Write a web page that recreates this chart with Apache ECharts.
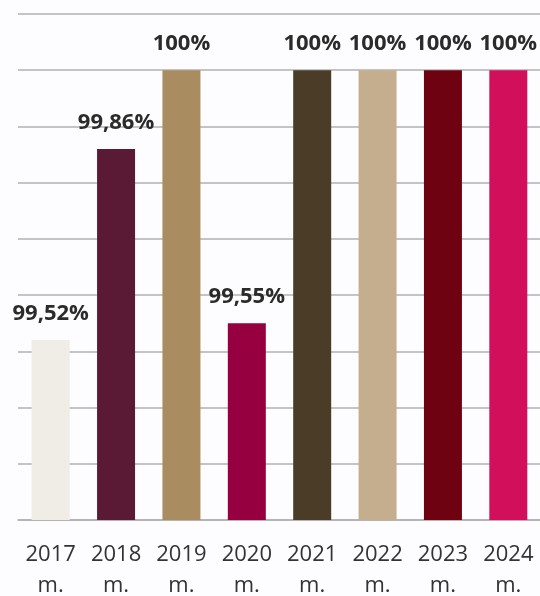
<!DOCTYPE html>
<html>
<head>
<meta charset="utf-8">
<script src="https://cdn.jsdelivr.net/npm/echarts@6/dist/echarts.min.js"></script>
<style>
  html, body { margin: 0; padding: 0; background: #fdfdff; }
  #chart { width: 540px; height: 596px; }
</style>
</head>
<body>
<div id="chart"></div>
<script>
const years = ['2017', '2018', '2019', '2020', '2021', '2022', '2023', '2024']
const values = [99.52, 99.86, 100, 99.55, 100, 100, 100, 100]
const labels = ['99,52%', '99,86%', '100%', '99,55%', '100%', '100%', '100%', '100%']
const colors = ['#f0ede6', '#5a1a35', '#a98c5f', '#960041', '#4a3c27', '#c5ae8e', '#6e0210', '#d20f5a']

const myChart = echarts.init(document.getElementById('chart'))
myChart.setOption({
  backgroundColor: '#fdfdff',
  animation: false,
  grid: { left: 18, right: -1, top: 14, bottom: 76, containLabel: false, outerBoundsMode: 'none' },
  xAxis: {
    type: 'category',
    data: years.map(y => y + '\nm.'),
    axisTick: { show: false },
    axisLine: { lineStyle: { color: '#b0b0b0', width: 1.5 } },
    axisLabel: {
      color: '#333333',
      fontSize: 22,
      fontFamily: 'Open Sans',
      lineHeight: 31,
      margin: 19,
      interval: 0
    }
  },
  yAxis: {
    type: 'value',
    min: 99.2,
    max: 100.1,
    interval: 0.1,
    axisLabel: { show: false },
    axisLine: { show: false },
    axisTick: { show: false },
    splitLine: { lineStyle: { color: '#b0b0b0', width: 1.5 } }
  },
  series: [{
    type: 'bar',
    barWidth: 38,
    data: values.map((v, i) => ({ value: v, itemStyle: { color: colors[i] } })),
    label: {
      show: true,
      position: 'top',
      distance: 15,
      formatter: p => labels[p.dataIndex],
      color: '#2b2b2b',
      fontSize: 22,
      fontWeight: 'bold',
      fontFamily: 'Open Sans'
    }
  }]
})
</script>
</body>
</html>
